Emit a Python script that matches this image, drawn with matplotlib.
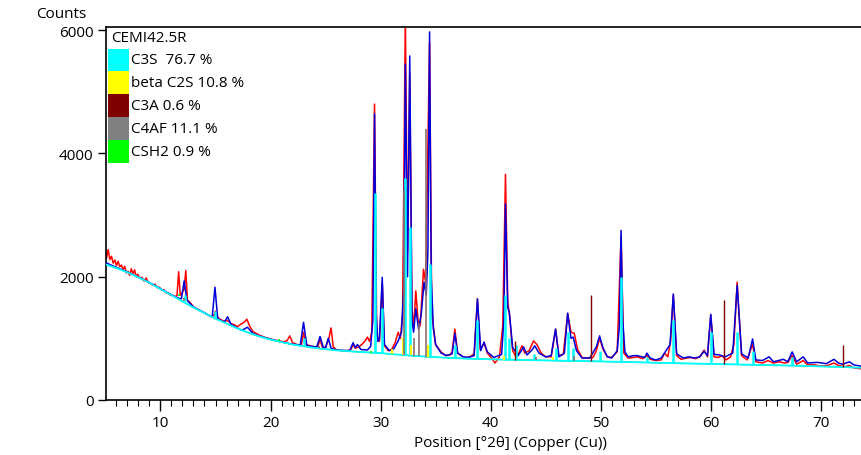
import matplotlib
matplotlib.use("Agg")
import matplotlib.pyplot as plt
from matplotlib.patches import Rectangle
from matplotlib.ticker import MultipleLocator

plt.rcParams['font.family'] = ['Open Sans', 'DejaVu Sans']

# ---------------- data ----------------
bg_x = [5, 6, 7, 8, 9, 10, 11, 12, 13, 14, 15, 16, 17, 18, 19, 20, 22, 24, 26, 28, 30, 32, 34, 36, 38,
        40, 44, 48, 52, 56, 60, 64, 68, 72, 73.9]
bg_y = [2200, 2140, 2070, 1990, 1900, 1800, 1700, 1600, 1500, 1410, 1320, 1240, 1160, 1090, 1030, 980,
        900, 845, 805, 780, 760, 730, 705, 685, 670, 660, 645, 632, 618, 600, 585, 570, 555, 535, 520]

calc_x = [5.0, 6.0, 7.0, 8.0, 9.0, 10.0, 11.0, 11.5, 11.9, 12.15, 12.4, 13.0, 14.0, 14.7, 14.95, 15.2,
          15.8, 16.1, 16.4, 17.0, 17.4, 17.9, 18.4, 19.0, 20.0, 21.0, 22.0, 22.7, 23.0, 23.3, 24.2, 24.5,
          24.8, 25.0, 25.25, 25.5, 26.0, 27.2, 27.5, 27.7, 27.9, 28.2, 28.8, 29.1, 29.3, 29.45, 29.6, 29.75, 29.9,
          30.15, 30.35, 30.8, 31.2, 31.6, 31.9, 32.1, 32.25, 32.45, 32.65, 32.85, 33.0, 33.2, 33.45, 33.7,
          33.95, 34.15, 34.3, 34.45, 34.6, 34.8, 35.0, 35.5, 36.0, 36.5, 36.75, 37.0, 37.5, 38.0, 38.5, 38.8, 39.1,
          39.4, 39.7, 40.3, 41.0, 41.2, 41.35, 41.55, 41.7, 42.0, 42.5, 43.0, 43.3, 43.8, 44.0, 44.4, 45.0,
          45.5, 45.9, 46.2, 46.7, 47.0, 47.3, 47.5, 47.8, 48.3, 49.0, 49.6, 49.9, 50.2, 50.6, 51.0, 51.5,
          51.7, 51.85, 52.0, 52.2, 52.5, 53.0, 53.3, 54.0, 54.2, 54.5, 55.0, 55.5, 56.3, 56.6, 56.9, 57.5, 58.0,
          58.5, 59.0, 59.4, 59.7, 60.0, 60.3, 60.8, 61.3, 62.0, 62.4, 62.8, 63.4, 63.8, 64.1, 64.7,
          65.3, 65.7, 66.6, 67.0, 67.4, 67.8, 68.4, 68.8, 69.7, 70.5, 71.2, 71.6, 72.0, 72.6, 73.0, 73.9]
calc_y = [2230, 2150, 2075, 1990, 1905, 1805, 1705, 1660, 1640, 1930, 1620, 1505, 1415, 1340, 1830, 1320,
          1260, 1350, 1230, 1165, 1130, 1180, 1080, 1035, 985, 940, 905, 890, 1260, 880, 860, 1030,
          850, 850, 1000, 840, 810, 800, 930, 850, 900, 820, 810, 870, 1300, 4640, 1400, 950, 1000,
          1990, 900, 800, 830, 960, 1100, 1800, 5450, 2000, 5580, 1300, 1100, 1480, 1150, 1400,
          1910, 1700, 2400, 5970, 2000, 1150, 900, 760, 720, 750, 1080, 760, 700, 690, 720, 1640, 800,
          940, 780, 690, 740, 1300, 3180, 1500, 1420, 850, 720, 860, 730, 820, 880, 760, 700,
          720, 1150, 700, 760, 1410, 1000, 1020, 800, 680, 680, 860, 1040, 850, 700, 680, 800,
          1200, 2750, 1300, 780, 700, 720, 720, 690, 760, 680, 650, 680, 900, 1720, 750, 680, 700,
          680, 700, 790, 720, 1390, 740, 730, 700, 760, 1860, 750, 680, 990, 650, 640,
          700, 620, 660, 620, 780, 620, 700, 600, 610, 590, 660, 600, 580, 620, 570, 540]

obs_x = [5.0, 5.1, 5.25, 5.4, 5.55, 5.7, 5.85, 6.0, 6.15, 6.3, 6.45, 6.6, 6.75, 6.9, 7.05, 7.2, 7.35, 7.5,
         7.65, 7.8, 7.95, 8.1, 8.3, 8.5, 8.7, 8.9, 9.1, 9.3, 9.5, 9.7, 9.9, 10.1, 10.3, 10.5, 10.7, 10.9,
         11.1, 11.3, 11.5, 11.65, 11.8, 11.95, 12.15, 12.3, 12.45, 12.7, 13.0, 13.3, 13.6, 13.9, 14.2,
         14.5, 14.8, 15.0, 15.2, 15.5, 15.8, 16.1, 16.4, 16.7, 17.0, 17.3, 17.6, 17.85, 18.1, 18.4, 18.7,
         19.0, 19.3, 19.6, 20.0, 20.4, 20.8, 21.2, 21.5, 21.75, 22.0, 22.4, 22.8, 23.0, 23.2, 23.6, 24.0,
         24.3, 24.5, 24.7, 25.0, 25.3, 25.5, 25.7, 26.0, 26.5, 27.0, 27.3, 27.5, 27.7, 28.0, 28.3, 28.6,
         28.8, 29.0, 29.2, 29.45, 29.65, 29.9, 30.15, 30.35, 30.7, 31.0, 31.3, 31.6, 31.8, 32.0, 32.25,
         32.45, 32.65, 32.85, 33.0, 33.2, 33.4, 33.6, 33.9, 34.1, 34.45, 34.65, 35.0, 35.5, 35.9, 36.3,
         36.5, 36.75, 37.0, 37.5, 37.8, 38.2, 38.5, 38.8, 39.05, 39.4, 39.7, 40.0, 40.4, 40.8, 41.1,
         41.35, 41.55, 41.7, 42.0, 42.3, 42.6, 42.85, 43.1, 43.5, 43.9, 44.2, 44.6, 45.0, 45.5, 45.9,
         46.2, 46.6, 47.0, 47.3, 47.6, 47.9, 48.3, 48.8, 49.3, 49.6, 49.9, 50.2, 50.6, 51.0, 51.5, 51.85,
         52.1, 52.5, 53.0, 53.3, 53.8, 54.2, 54.5, 55.0, 55.5, 55.8, 56.1, 56.35, 56.6, 56.9, 57.3, 57.8,
         58.2, 58.6, 59.0, 59.4, 59.7, 60.0, 60.3, 60.7, 61.0, 61.4, 61.8, 62.1, 62.4, 62.8, 63.3, 63.8,
         64.1, 64.7, 65.2, 65.7, 66.2, 66.7, 67.0, 67.4, 67.8, 68.4, 68.8, 69.4, 70.0, 70.6, 71.2, 71.6,
         72.2, 72.6, 73.0, 73.5, 73.9]
obs_y = [2450, 2300, 2440, 2280, 2330, 2220, 2270, 2180, 2250, 2160, 2190, 2110, 2170, 2060, 2090, 2020,
         2130, 2040, 2110, 2000, 2040, 1980, 1990, 1930, 1980, 1900, 1890, 1860, 1880, 1820, 1830, 1780,
         1790, 1740, 1740, 1700, 1700, 1680, 1690, 2080, 1700, 1730, 1800, 2100, 1620, 1580, 1510, 1480,
         1450, 1420, 1390, 1370, 1350, 1440, 1340, 1300, 1280, 1290, 1240, 1220, 1190, 1230, 1260, 1310,
         1200, 1110, 1080, 1050, 1030, 1010, 990, 970, 960, 945, 960, 1040, 930, 900, 890, 1100, 900,
         880, 860, 870, 980, 860, 850, 1000, 1170, 860, 815, 800, 800, 820, 900, 840, 860, 900, 960,
         1020, 950, 1100, 4800, 1050, 950, 1900, 880, 800, 820, 920, 1100, 1000, 1400, 6200,
         2400, 5300, 1500, 1150, 1770, 1300, 1200, 2120, 1900, 5800, 1400, 900, 780, 720, 730,
         780, 1150, 760, 700, 690, 710, 750, 1640, 820, 920, 760, 700, 600, 700, 1200,
         3660, 1600, 1400, 800, 700, 780, 880, 760, 800, 960, 900, 760, 700, 700, 1150,
         720, 740, 1400, 1100, 1080, 820, 690, 680, 690, 800, 1000, 830, 700, 690, 780, 2660,
         760, 680, 690, 700, 670, 720, 660, 640, 650, 760, 700, 950, 1700, 720, 660, 680,
         690, 670, 700, 810, 700, 1380, 700, 690, 720, 650, 700, 900, 1910, 720, 650, 900,
         620, 600, 640, 600, 620, 600, 610, 720, 580, 640, 570, 570, 550, 560, 600, 560,
         540, 560, 520, 510, 490]

# phase reference profiles: positions, base and top counts
c3s_pos = [12.2, 14.95, 23.0, 29.45, 30.15, 32.25, 32.65, 34.45, 36.75, 38.8, 41.35, 41.7, 42.3, 43.9,
           45.9, 47.05, 47.5, 49.9, 51.85, 54.2, 56.6, 60.0, 62.4, 63.8, 67.4]
c3s_base = [1600, 1320, 880, 770, 760, 730, 725, 700, 685, 670, 655, 655, 652, 645,
            640, 637, 636, 630, 620, 610, 598, 585, 578, 573, 560]
c3s_top = [1700, 1450, 1000, 3350, 1500, 3600, 2800, 2200, 900, 1300, 1700, 1000, 900, 750,
           850, 1100, 850, 800, 2000, 700, 1300, 1100, 1100, 800, 700]
c2s_pos = [31.0, 32.05, 32.75, 34.3, 41.2, 45.7]
c2s_base = [745, 732, 725, 702, 656, 641]
c2s_top = [820, 1000, 900, 900, 720, 690]
c3a_pos = [42.2, 49.15, 61.2, 72.05]
c3a_base = [652, 628, 582, 534]
c3a_top = [950, 1710, 1620, 890]
c4af_pos = [12.1, 24.4, 32.15, 33.05, 33.5, 34.1, 44.1, 47.6]
c4af_base = [1600, 845, 732, 720, 712, 704, 645, 635]
c4af_top = [1650, 880, 3400, 1000, 1250, 4390, 700, 720]
csh2_pos = [11.65, 20.8, 29.1]
csh2_base = [1680, 950, 770]
csh2_top = [1720, 990, 800]

legend_title = "CEMI42.5R"
legend_labels = ["C3S  76.7 %", "beta C2S 10.8 %", "C3A 0.6 %", "C4AF 11.1 %", "CSH2 0.9 %"]
legend_colors = ["#00FFFF", "#FFFF00", "#800000", "#808080", "#00FF00"]

x_major = [10, 20, 30, 40, 50, 60, 70]
y_major = [0, 2000, 4000, 6000]

# ---------------- figure ----------------
fig = plt.figure(figsize=(8.62, 4.56), dpi=100)
ax = fig.add_axes([106 / 862, 1 - 401 / 456, 1 - 106 / 862 + 0.002, (401 - 28) / 456])

ax.plot(bg_x, bg_y, color="#00A000", lw=0.8, zorder=1)
ax.plot(obs_x, obs_y, color="#FF0000", lw=1.1, zorder=2)
ax.plot(calc_x, calc_y, color="#0000DD", lw=1.1, zorder=3)
ax.plot(bg_x, bg_y, color="#00FFFF", lw=1.3, zorder=4)

ax.vlines(c3s_pos, c3s_base, c3s_top, colors="#00FFFF", lw=1.8, zorder=5)
ax.vlines(c2s_pos, c2s_base, c2s_top, colors="#FFFF00", lw=1.5, zorder=5)
ax.vlines(c4af_pos, c4af_base, c4af_top, colors="#8A6F6F", lw=1.2, zorder=5)
ax.vlines(c3a_pos, c3a_base, c3a_top, colors="#800000", lw=1.0, zorder=6)
ax.vlines(csh2_pos, csh2_base, csh2_top, colors="#00FF00", lw=1.2, zorder=5)

ax.set_xlim(5.05, 73.9)
ax.set_ylim(0, 6050)
ax.set_xticks(x_major)
ax.xaxis.set_minor_locator(MultipleLocator(1))
ax.set_yticks(y_major)
ax.tick_params(axis="x", which="major", direction="out", length=8, width=1.0, labelsize=11, pad=3)
ax.tick_params(axis="x", which="minor", direction="out", length=4, width=0.8)
ax.tick_params(axis="y", which="major", direction="out", length=6, width=1.0, labelsize=11, pad=3)
for s in ["left", "bottom", "top"]:
    ax.spines[s].set_linewidth(1.2)
ax.spines["right"].set_visible(False)

ax.set_xlabel("Position [°2θ] (Copper (Cu))", fontsize=11)
ax.xaxis.set_label_coords((510 - 106) / (862 - 106), -0.095)
fig.text(61 / 862, 1 - 14 / 456, "Counts", fontsize=11, ha="center", va="center")

# legend drawn in axes (pixel-based placement)
def px(xp, yp):
    return ((xp - 106) / (862 - 106), (401 - yp) / (401 - 28))

tx, ty = px(111, 39)
ax.text(tx, ty, legend_title, transform=ax.transAxes, fontsize=11, ha="left", va="center", zorder=10)
row_h = 22.8
for i, (lab, col) in enumerate(zip(legend_labels, legend_colors)):
    yc = 61 + i * row_h
    x0, y0 = px(107.5, yc + row_h / 2)
    x1, y1 = px(129, yc - row_h / 2)
    ax.add_patch(Rectangle((x0, y0), x1 - x0, y1 - y0, transform=ax.transAxes,
                           facecolor=col, edgecolor="none", zorder=10))
    lx, ly = px(131, yc)
    ax.text(lx, ly, lab, transform=ax.transAxes, fontsize=11, ha="left", va="center", zorder=10)

fig.savefig("out.png", dpi=100)
